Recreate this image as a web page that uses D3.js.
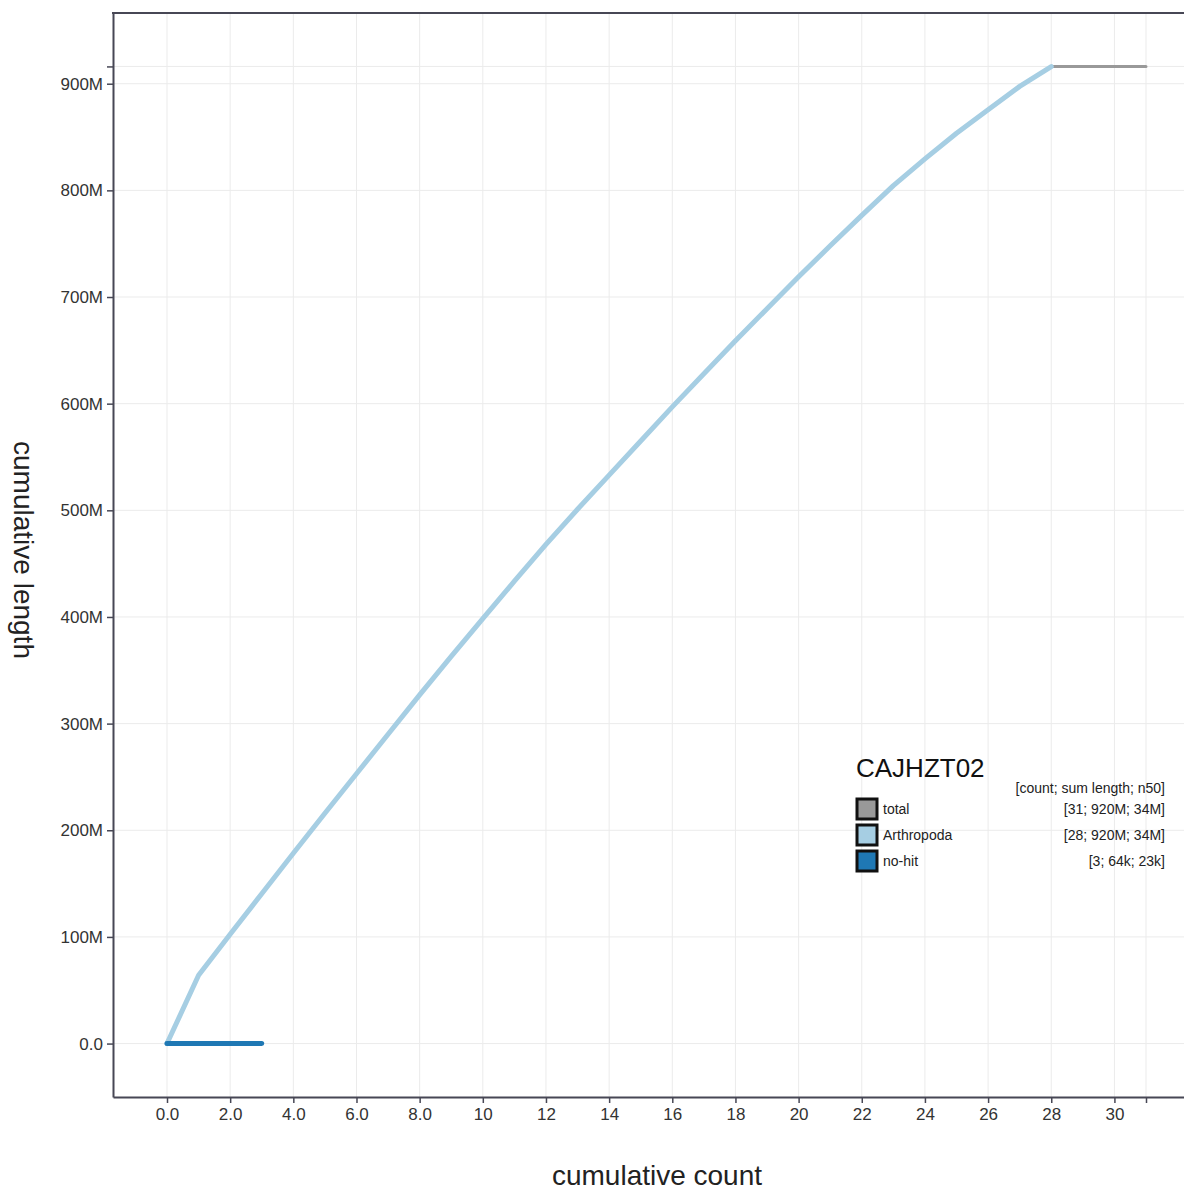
<!DOCTYPE html>
<html>
<head>
<meta charset="utf-8">
<script src="https://cdn.jsdelivr.net/npm/d3@7"></script>
<style>
  html, body { margin: 0; padding: 0; background: #fff; }
  svg { display: block; font-family: "Liberation Sans", Arial, sans-serif; }
</style>
</head>
<body>
<div id="chart"></div>
<script>
// cumulative length curve, assembly CAJHZT02
const assemblyName = "CAJHZT02";

// cumulative length in Mb, one value per cumulative count (0..n)
const arthropodaCum = [0, 64, 102.5, 140.5, 178.5, 216, 253, 290, 327, 363, 398.5,
  433.5, 468, 501, 533, 565, 597, 628, 659, 689, 719, 748, 776.5, 804.5, 829.5,
  853.5, 875.5, 897.5, 916.1];
const noHitCum = [0, 0.023, 0.044, 0.064];
const totalCum = [0, 64, 102.5, 140.5, 178.5, 216, 253, 290, 327, 363, 398.5,
  433.5, 468, 501, 533, 565, 597, 628, 659, 689, 719, 748, 776.5, 804.5, 829.5,
  853.5, 875.5, 897.5, 916.1, 916.12, 916.14, 916.16];

const seriesNames = ["total", "Arthropoda", "no-hit"];
const seriesColors = ["#999999", "#a6cee3", "#1f78b4"];
const seriesStats = ["[31; 920M; 34M]", "[28; 920M; 34M]", "[3; 64k; 23k]"];

const xTicks = [0, 2, 4, 6, 8, 10, 12, 14, 16, 18, 20, 22, 24, 26, 28, 30, 31];
const yTicks = [0, 100, 200, 300, 400, 500, 600, 700, 800, 900, 916.2];

const width = 1184, height = 1191;
const plotLeft = 113, plotTop = 13, plotBottom = 1097, plotRight = 1200;

const svg = d3.select("#chart").append("svg")
  .attr("width", width)
  .attr("height", height);

const x = d3.scaleLinear().domain([-1.71, 32.71]).range([plotLeft, plotRight]);
const y = d3.scaleLinear().domain([-50.1, 966.3]).range([plotBottom, plotTop]);

// grid
const grid = svg.append("g").attr("stroke", "#ebebeb").attr("stroke-width", 1);
grid.selectAll(".gx").data(xTicks).join("line")
  .attr("class", "gx")
  .attr("x1", d => x(d)).attr("x2", d => x(d))
  .attr("y1", plotTop).attr("y2", plotBottom);
grid.selectAll(".gy").data(yTicks).join("line")
  .attr("class", "gy")
  .attr("x1", plotLeft).attr("x2", plotRight)
  .attr("y1", d => y(d)).attr("y2", d => y(d));

// lines
const line = d3.line().x((d, i) => x(i)).y(d => y(d));
const series = [
  { values: totalCum, color: seriesColors[0], w: 3 },
  { values: arthropodaCum, color: seriesColors[1], w: 5 },
  { values: noHitCum, color: seriesColors[2], w: 5 }
];
svg.append("g").selectAll("path").data(series).join("path")
  .attr("d", d => line(d.values))
  .attr("fill", "none")
  .attr("stroke", d => d.color)
  .attr("stroke-width", d => d.w)
  .attr("stroke-linecap", "round")
  .attr("stroke-linejoin", "round");

// axes
const axisColor = "#474755";
const xAxis = d3.axisBottom(x).tickValues(xTicks).tickSize(6).tickSizeOuter(0).tickPadding(5)
  .tickFormat(d => d === 31 ? "" : (d < 10 ? d.toFixed(1) : String(d)));
const yAxis = d3.axisLeft(y).tickValues(yTicks).tickSize(6).tickSizeOuter(0).tickPadding(4)
  .tickFormat(d => d === 0 ? "0.0" : (d % 100 === 0 ? d + "M" : ""));

const gx = svg.append("g").attr("transform", `translate(0,${plotBottom})`).call(xAxis);
const gy = svg.append("g").attr("transform", `translate(${plotLeft},0)`).call(yAxis);
[gx, gy].forEach(g => {
  g.select(".domain").attr("stroke", axisColor).attr("stroke-width", 2);
  g.selectAll(".tick line").attr("stroke", axisColor).attr("stroke-width", 1.5);
  g.selectAll(".tick text").attr("fill", "#333").style("font-size", "17px")
    .style("font-family", "Liberation Sans, Arial, sans-serif");
});

// top border
svg.append("line")
  .attr("x1", plotLeft - 1).attr("x2", plotRight)
  .attr("y1", plotTop).attr("y2", plotTop)
  .attr("stroke", axisColor).attr("stroke-width", 2);

// axis titles
svg.append("text")
  .attr("x", 657).attr("y", 1185)
  .attr("text-anchor", "middle")
  .attr("font-size", 28)
  .attr("fill", "#222")
  .text("cumulative count");

svg.append("text")
  .attr("transform", "translate(14,550) rotate(90)")
  .attr("text-anchor", "middle")
  .attr("font-size", 28)
  .attr("fill", "#222")
  .text("cumulative length");

// legend
const legend = svg.append("g");
legend.append("text")
  .attr("x", 856).attr("y", 777)
  .attr("font-size", 26)
  .attr("fill", "#111")
  .text(assemblyName);
legend.append("text")
  .attr("x", 1165).attr("y", 793)
  .attr("text-anchor", "end")
  .attr("font-size", 14)
  .attr("fill", "#222")
  .text("[count; sum length; n50]");

const rows = legend.selectAll(".row").data(seriesNames).join("g")
  .attr("class", "row")
  .attr("transform", (d, i) => `translate(0,${799 + i * 26})`);
rows.append("rect")
  .attr("x", 857).attr("y", 0)
  .attr("width", 20).attr("height", 20)
  .attr("fill", (d, i) => seriesColors[i])
  .attr("stroke", "#111")
  .attr("stroke-width", 3);
rows.append("text")
  .attr("x", 883).attr("y", 15)
  .attr("font-size", 14)
  .attr("fill", "#222")
  .text(d => d);
rows.append("text")
  .attr("x", 1165).attr("y", 15)
  .attr("text-anchor", "end")
  .attr("font-size", 14)
  .attr("fill", "#222")
  .text((d, i) => seriesStats[i]);
</script>
</body>
</html>
